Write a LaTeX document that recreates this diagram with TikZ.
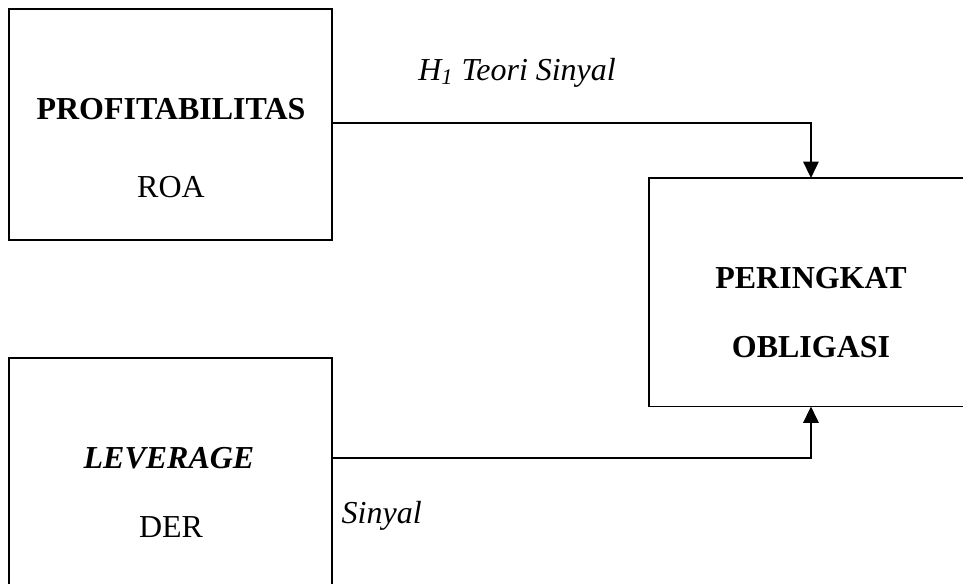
\documentclass[tikz,border=0pt]{standalone}
\usepackage{fontspec}
\setmainfont{Liberation Serif}
\usetikzlibrary{arrows.meta}

\tikzset{
  varbox/.style={draw, line width=0.034cm, fill=white, inner sep=0pt, outer sep=0pt, anchor=north west},
  boxtext/.style={anchor=base, inner sep=0pt, font=\fontsize{18.2}{21}\selectfont},
  hyptext/.style={anchor=base west, inner sep=0pt, font=\fontsize{18.2}{21}\selectfont\itshape},
  link/.style={line width=0.034cm, -{Triangle[length=0.33cm, width=0.31cm]}}
}

\begin{document}
\begin{tikzpicture}[x=0.02cm, y=-0.02cm]
\useasboundingbox (0,0) rectangle (963,583);

% hypothesis labels (the second one sits behind the leverage box)
\node[hyptext] (hyp1) at (418,80) {H\textsubscript{1} Teori Sinyal};
\node[hyptext, anchor=base east] (hyp2) at (422,523) {H\textsubscript{2} Teori Sinyal};

% variable boxes
\node[varbox, minimum width=6.46cm, minimum height=4.62cm] (profit) at (9,9) {};
\node[varbox, minimum width=6.46cm, minimum height=5.4cm] (lev) at (9,358) {};
\node[varbox, minimum width=6.48cm, minimum height=4.57cm] (rating) at (649,178) {};

\node[boxtext] (profitA) at (171,119) {\textbf{PROFITABILITAS}};
\node[boxtext] (profitB) at (171,197) {ROA};
\node[boxtext] (levA) at (169,468) {\textbf{\textit{LEVERAGE}}};
\node[boxtext] (levB) at (171,537) {DER};
\node[boxtext] (ratingA) at (811,288) {\textbf{PERINGKAT}};
\node[boxtext] (ratingB) at (811,357) {\textbf{OBLIGASI}};

% arrows
\draw[link] (profit.east |- 0,123) -| (rating.north);
\draw[link] (lev.east |- 0,458) -| (rating.south);

\end{tikzpicture}
\end{document}
